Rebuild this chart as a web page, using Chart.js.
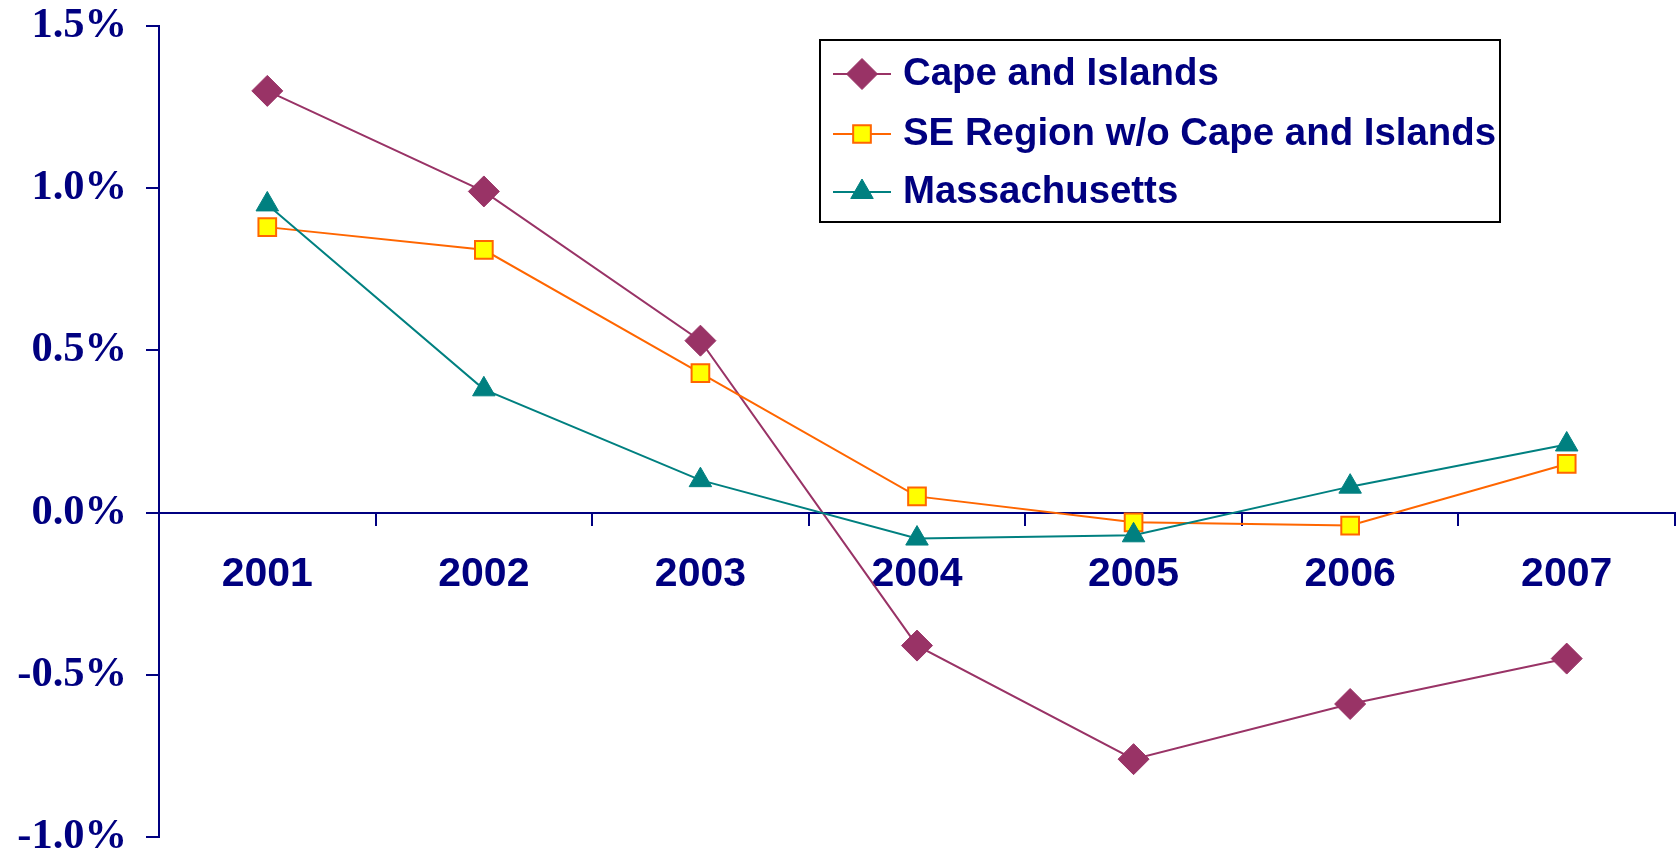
<!DOCTYPE html>
<html>
<head>
<meta charset="utf-8">
<script src="https://cdn.jsdelivr.net/npm/chart.js@4/dist/chart.umd.min.js"></script>
<style>
  body { margin: 0; background: #fff; }
  #wrap { width: 1679px; height: 855px; }
</style>
</head>
<body>
<div id="wrap"><canvas id="chart" width="1679" height="855"></canvas></div>
<script>
// data (percent)
const years = ["2001", "2002", "2003", "2004", "2005", "2006", "2007"];
const capeIslands = [1.30, 0.99, 0.53, -0.41, -0.76, -0.59, -0.45];
const seRegion = [0.88, 0.81, 0.43, 0.05, -0.03, -0.04, 0.15];
const massachusetts = [0.95, 0.38, 0.10, -0.08, -0.07, 0.08, 0.21];
const seriesNames = ["Cape and Islands", "SE Region w/o Cape and Islands", "Massachusetts"];

const navy = "#000080";

// legend box drawn inside the plot, like the original
const boxLegend = {
  id: "boxLegend",
  afterDraw(chart) {
    const ctx = chart.ctx;
    ctx.save();
    ctx.fillStyle = "#fff";
    ctx.fillRect(820, 40, 680, 182);
    ctx.lineWidth = 2;
    ctx.strokeStyle = "#000";
    ctx.strokeRect(820, 40, 680, 182);
    const rows = [74, 134, 192];
    chart.data.datasets.forEach(function(ds, i) {
      const y = rows[i];
      ctx.lineWidth = 2;
      ctx.strokeStyle = ds.borderColor;
      ctx.beginPath();
      ctx.moveTo(833, y);
      ctx.lineTo(891, y);
      ctx.stroke();
      ctx.fillStyle = ds.pointBackgroundColor;
      ctx.strokeStyle = ds.pointBorderColor;
      ctx.lineWidth = ds.pointBorderWidth;
      Chart.helpers.drawPoint(ctx, {
        pointStyle: ds.pointStyle,
        radius: ds.pointRadius,
        borderWidth: ds.pointBorderWidth,
        rotation: 0
      }, 862, y);
      ctx.fillStyle = navy;
      ctx.font = "bold 38.4px 'Liberation Sans', Arial, sans-serif";
      ctx.textBaseline = "middle";
      ctx.textAlign = "left";
      ctx.fillText(ds.label, 903, y);
    });
    ctx.restore();
  }
};

const chartdata = {
  labels: years,
  datasets: [
    {
      label: seriesNames[0],
      data: capeIslands,
      order: 3,
      borderColor: "#993366",
      borderWidth: 2,
      pointStyle: "rectRot",
      pointRadius: 15.5,
      pointBackgroundColor: "#993366",
      pointBorderColor: "#993366",
      pointBorderWidth: 1
    },
    {
      label: seriesNames[1],
      data: seRegion,
      order: 2,
      borderColor: "#FF6600",
      borderWidth: 2,
      pointStyle: "rect",
      pointRadius: 12.5,
      pointBackgroundColor: "#FFFF00",
      pointBorderColor: "#FF6600",
      pointBorderWidth: 2
    },
    {
      label: seriesNames[2],
      data: massachusetts,
      order: 1,
      borderColor: "#008080",
      borderWidth: 2,
      pointStyle: "triangle",
      pointRadius: 13,
      pointBackgroundColor: "#008080",
      pointBorderColor: "#008080",
      pointBorderWidth: 1
    }
  ]
};

const config = {
  type: "line",
  data: chartdata,
  plugins: [boxLegend],
  options: {
    responsive: false,
    animation: false,
    layout: { autoPadding: false, padding: { top: 26, right: 4, bottom: 18, left: 0 } },
    plugins: { legend: { display: false }, tooltip: { enabled: false } },
    scales: {
      x: {
        position: { y: 0 },
        offset: true,
        afterFit: function(scale) { scale.paddingLeft = 0; scale.paddingRight = 0; },
        grid: { offset: true, drawOnChartArea: false, drawTicks: true, tickLength: 12, color: navy, lineWidth: 2 },
        border: { color: navy, width: 2 },
        ticks: {
          color: navy,
          padding: 0,
          maxRotation: 0,
          autoSkip: false,
          font: { family: "'Liberation Sans', Arial, sans-serif", weight: "bold", size: 41, lineHeight: 2.42 }
        }
      },
      y: {
        min: -1,
        max: 1.5,
        afterFit: function(scale) { scale.width = 159; scale.paddingTop = 0; scale.paddingBottom = 0; },
        grid: { drawOnChartArea: false, drawTicks: true, tickLength: 13, color: navy, lineWidth: 2 },
        border: { color: navy, width: 2 },
        ticks: {
          stepSize: 0.5,
          color: navy,
          padding: 19,
          font: { family: "'Liberation Serif', 'Times New Roman', serif", weight: "bold", size: 42.5 },
          callback: function(v) { return v.toFixed(1) + "%"; }
        }
      }
    }
  }
};

const myChart = new Chart(document.getElementById("chart"), config);
</script>
</body>
</html>
